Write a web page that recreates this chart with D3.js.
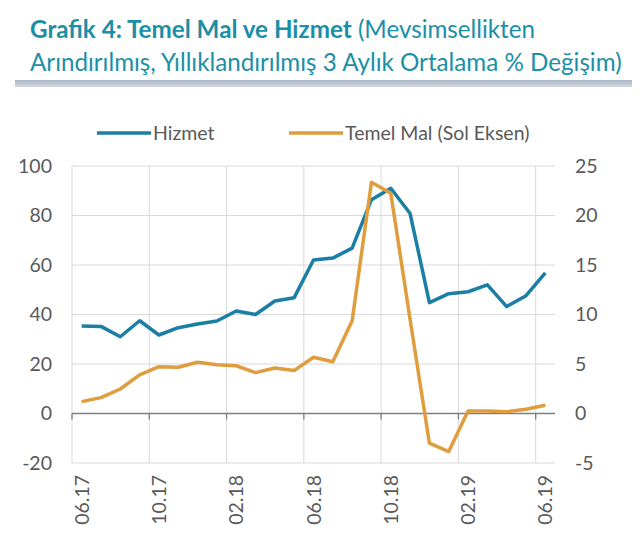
<!DOCTYPE html>
<html><head><meta charset="utf-8">
<script src="https://cdn.jsdelivr.net/npm/d3@7"></script>
<style>
html,body{margin:0;padding:0;background:#fff;}
text{font-family:Lato,"Open Sans",sans-serif;}
</style></head>
<body>
<svg id="c" width="640" height="559"></svg>
<script>
const months = ["06.17","07.17","08.17","09.17","10.17","11.17","12.17","01.18","02.18","03.18","04.18","05.18","06.18","07.18","08.18","09.18","10.18","11.18","12.18","01.19","02.19","03.19","04.19","05.19","06.19"];
const tickLabels = ["06.17","10.17","02.18","06.18","10.18","02.19","06.19"];
// Hizmet (right axis)
const hizmet = [8.84,8.8,7.75,9.37,7.93,8.67,9.04,9.34,10.35,10.0,11.36,11.7,15.5,15.7,16.7,21.6,22.75,20.2,11.2,12.1,12.3,13.0,10.8,11.9,14.2];
// Temel Mal (left axis)
const temelMal = [4.8,6.4,9.9,15.6,18.9,18.7,20.7,19.7,19.3,16.5,18.4,17.4,22.7,20.9,37.5,93.4,89.0,38.0,-12.0,-15.4,1.0,1.0,0.7,1.7,3.3];
const leftTicks = [-20,0,20,40,60,80,100];
const rightTicks = [-5,0,5,10,15,20,25];

const svg = d3.select("#c");
const teal = "#1b8fa6", blue = "#1a7ea5", orange = "#df9d3e", grey = "#595959";
const L = 72, R = 555, T = 166, B = 463;
const FS = 19.5;

// Title
const t1 = svg.append("text").attr("x",30).attr("y",38).attr("font-size",24.2).attr("fill",teal);
t1.append("tspan").attr("font-weight","bold").text("Grafik 4: Temel Mal ve Hizmet");
t1.append("tspan").text(" (Mevsimsellikten");
svg.append("text").attr("x",30).attr("y",71).attr("font-size",24.2).attr("fill",teal)
  .text("Arındırılmış, Yıllıklandırılmış 3 Aylık Ortalama % Değişim)");
const grad = svg.append("defs").append("linearGradient").attr("id","bar").attr("x1",0).attr("x2",0).attr("y1",0).attr("y2",1);
grad.append("stop").attr("offset","0%").attr("stop-color","#aab6c4");
grad.append("stop").attr("offset","100%").attr("stop-color","#d3dae2");
svg.append("rect").attr("x",15).attr("y",80).attr("width",617).attr("height",7).attr("fill","url(#bar)");

const x = d3.scaleBand().domain(months).range([L,R]).padding(0);
const yL = d3.scaleLinear().domain([-20,100]).range([B,T]);
const yR = d3.scaleLinear().domain([-5,25]).range([B,T]);

// horizontal gridlines
svg.append("g").selectAll("line").data(leftTicks.filter(d=>d!==0)).join("line")
  .attr("x1",L).attr("x2",R).attr("y1",d=>yL(d)).attr("y2",d=>yL(d))
  .attr("stroke","#d9d9d9").attr("stroke-width",1);
// vertical gridlines
svg.append("g").selectAll("line").data(tickLabels).join("line")
  .attr("x1",d=>x(d)).attr("x2",d=>x(d)).attr("y1",T).attr("y2",B)
  .attr("stroke","#d9d9d9").attr("stroke-width",1);

// zero axis with ticks
const xAxis = d3.axisBottom(x).tickValues(tickLabels).tickSize(6).tickFormat("");
const gx = svg.append("g").attr("transform",`translate(0,${yL(0)})`).call(xAxis);
gx.select(".domain").attr("stroke","#7f7f7f").attr("stroke-width",1.3).attr("d",`M${L},0H${R}`);
gx.selectAll(".tick").attr("transform",d=>`translate(${x(d)},0)`);
gx.selectAll(".tick line").attr("stroke","#7f7f7f").attr("stroke-width",1.3);

const fmt = d => String(d);
// left axis labels
const gl = svg.append("g").attr("transform",`translate(${L},0)`).call(d3.axisLeft(yL).tickValues(leftTicks).tickFormat(fmt).tickSize(0).tickPadding(20));
gl.select(".domain").remove();
gl.selectAll("text").attr("font-size",FS).attr("fill",grey).style("font-family","Lato,'Open Sans',sans-serif");
// right axis labels
const gr = svg.append("g").attr("transform",`translate(${R},0)`).call(d3.axisRight(yR).tickValues(rightTicks).tickFormat(fmt).tickSize(0).tickPadding(20));
gr.select(".domain").remove();
gr.selectAll("text").attr("font-size",FS).attr("fill",grey).style("font-family","Lato,'Open Sans',sans-serif");

// x labels rotated
svg.append("g").selectAll("text").data(tickLabels).join("text")
  .attr("transform",d=>`translate(${x(d)+x.bandwidth()/2+7},${475}) rotate(-90)`)
  .attr("text-anchor","end").attr("font-size",FS).attr("fill",grey).text(d=>d);

// lines
const lineL = d3.line().x((d,i)=>x(months[i])+x.bandwidth()/2).y(d=>yL(d));
const lineR = d3.line().x((d,i)=>x(months[i])+x.bandwidth()/2).y(d=>yR(d));
svg.append("path").datum(hizmet).attr("d",lineR).attr("fill","none").attr("stroke",blue).attr("stroke-width",3.5).attr("stroke-linejoin","round");
svg.append("path").datum(temelMal).attr("d",lineL).attr("fill","none").attr("stroke",orange).attr("stroke-width",3.5).attr("stroke-linejoin","round");

// legend
const leg = [{name:"Hizmet",c:blue,x:97},{name:"Temel Mal (Sol Eksen)",c:orange,x:289}];
const lg = svg.append("g").selectAll("g").data(leg).join("g");
lg.append("line").attr("x1",d=>d.x).attr("x2",d=>d.x+54).attr("y1",133).attr("y2",133).attr("stroke",d=>d.c).attr("stroke-width",3.5);
lg.append("text").attr("x",d=>d.x+56).attr("y",133).attr("dy","0.35em").attr("font-size",FS).attr("fill",grey).text(d=>d.name);
</script>
</body></html>
